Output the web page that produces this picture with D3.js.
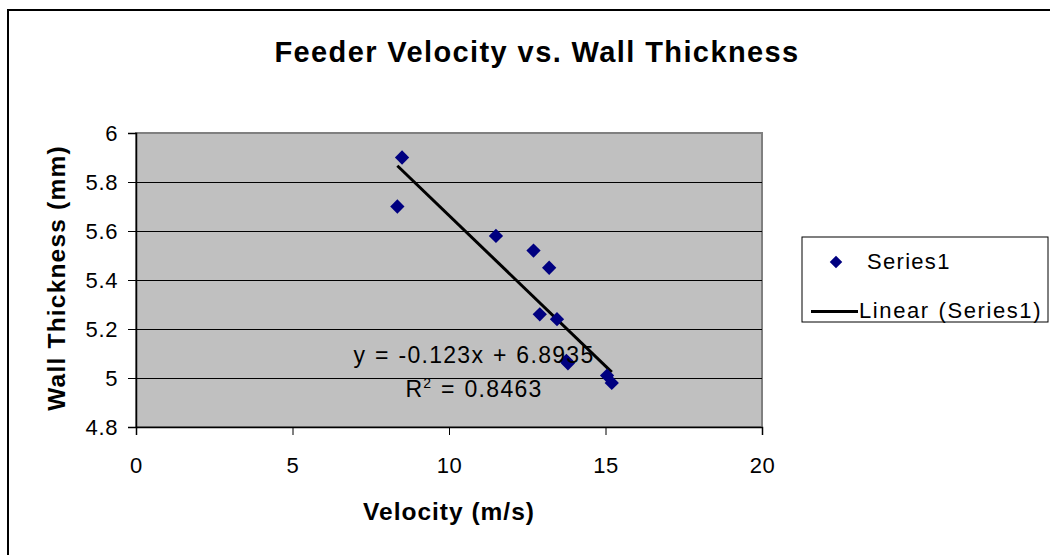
<!DOCTYPE html>
<html>
<head>
<meta charset="utf-8">
<script src="https://cdn.jsdelivr.net/npm/d3@7/dist/d3.min.js"></script>
<style>
  html, body { margin: 0; padding: 0; background: #fff; }
  svg { display: block; font-family: "Liberation Sans", Arial, sans-serif; }
</style>
</head>
<body>
<div id="chart"></div>
<script>
// data
const velocity = [8.5, 8.35, 11.5, 12.7, 13.2, 12.9, 13.45, 13.75, 13.8, 15.05, 15.2];
const thickness = [5.9, 5.7, 5.58, 5.52, 5.45, 5.26, 5.24, 5.07, 5.06, 5.01, 4.98];
const xTicks = [0, 5, 10, 15, 20];
const yTicks = [4.8, 5, 5.2, 5.4, 5.6, 5.8, 6];
const trendSlope = -0.123;
const trendIntercept = 6.8935;
const trendLabel = ['y = -0.123x + 6.8935', '0.8463'];
const legendLabels = ['Series1', 'Linear (Series1)'];

const width = 1050, height = 555;
const margin = { top: 133, right: 288, bottom: 128, left: 136 };
const plotWidth = width - margin.left - margin.right;
const plotHeight = height - margin.top - margin.bottom;

const svg = d3.select('#chart').append('svg')
  .attr('width', width)
  .attr('height', height);

// outer chart border
svg.append('rect')
  .attr('x', 8).attr('y', 10)
  .attr('width', width + 10).attr('height', height + 10)
  .style('fill', 'none')
  .style('stroke', '#000')
  .style('stroke-width', 2);

svg.append('text')
  .attr('x', 537).attr('y', 62)
  .attr('text-anchor', 'middle')
  .style('font-size', '29px')
  .style('font-weight', 'bold')
  .style('letter-spacing', '1.4px')
  .text('Feeder Velocity vs. Wall Thickness');

const g = svg.append('g')
  .attr('transform', `translate(${margin.left},${margin.top})`);

const x = d3.scaleLinear().domain([0, 20]).range([0, plotWidth]);
const y = d3.scaleLinear().domain([4.8, 6]).range([plotHeight, 0]);

// plot area
g.append('rect')
  .attr('width', plotWidth).attr('height', plotHeight)
  .style('fill', '#c0c0c0')
  .style('stroke', '#808080')
  .style('stroke-width', 2);

// gridlines
g.append('g')
  .selectAll('line')
  .data(yTicks.filter(d => d > 4.8 && d < 6))
  .enter().append('line')
  .attr('x1', 0).attr('x2', plotWidth)
  .attr('y1', d => Math.round(y(d)) + 0.5)
  .attr('y2', d => Math.round(y(d)) + 0.5)
  .style('stroke', '#000')
  .style('stroke-width', 1);

// axes
const xAxis = g.append('g')
  .attr('transform', `translate(0,${plotHeight})`)
  .call(d3.axisBottom(x).tickValues(xTicks).tickSize(8).tickPadding(22).tickFormat(d3.format('d')));
const yAxis = g.append('g')
  .call(d3.axisLeft(y).tickValues(yTicks).tickSize(8).tickPadding(10).tickFormat(d => d3.format('')(+d.toFixed(1))));

[xAxis, yAxis].forEach(a => {
  a.select('.domain').style('stroke', '#000').style('stroke-width', 1.5);
  a.selectAll('.tick line').style('stroke', '#000');
  a.selectAll('text')
    .style('font-family', '"Liberation Sans", Arial, sans-serif')
    .style('font-size', '22px')
    .style('letter-spacing', '0.6px')
    .style('fill', '#000');
});

// trend line over the data range
const xExt = d3.extent(velocity);
g.append('line')
  .attr('x1', x(xExt[0])).attr('y1', y(trendSlope * xExt[0] + trendIntercept))
  .attr('x2', x(xExt[1])).attr('y2', y(trendSlope * xExt[1] + trendIntercept))
  .style('stroke', '#000')
  .style('stroke-width', 3);

// points
const diamond = d3.symbol().type(d3.symbolDiamond2).size(130);
g.selectAll('.pt')
  .data(velocity.map((v, i) => [v, thickness[i]]))
  .enter().append('path')
  .attr('class', 'pt')
  .attr('transform', d => `translate(${x(d[0])},${y(d[1])})`)
  .attr('d', diamond)
  .style('fill', '#000080');

// equation label
const eq = g.append('text')
  .attr('x', x(10.8)).attr('y', y(5.063))
  .attr('text-anchor', 'middle')
  .style('font-size', '23px')
  .style('letter-spacing', '1.3px')
  .style('word-spacing', '1px');
eq.append('tspan').text(trendLabel[0]);
const r2 = g.append('text')
  .attr('x', x(10.8)).attr('y', y(4.924))
  .attr('text-anchor', 'middle')
  .style('font-size', '23px')
  .style('letter-spacing', '1.3px')
  .style('word-spacing', '1px');
r2.append('tspan').text('R');
r2.append('tspan').attr('dy', -9).style('font-size', '14px').text('2');
r2.append('tspan').attr('dy', 9).text(' = ' + trendLabel[1]);

// axis titles
svg.append('text')
  .attr('x', 449).attr('y', 520)
  .attr('text-anchor', 'middle')
  .style('font-size', '24.5px')
  .style('font-weight', 'bold')
  .style('letter-spacing', '1px')
  .text('Velocity (m/s)');
svg.append('text')
  .attr('transform', 'translate(65,278) rotate(-90)')
  .attr('text-anchor', 'middle')
  .style('font-size', '24.5px')
  .style('font-weight', 'bold')
  .style('letter-spacing', '1.2px')
  .text('Wall Thickness (mm)');

// legend
const lg = svg.append('g').attr('transform', 'translate(802,237)');
lg.append('rect')
  .attr('width', 246).attr('height', 85)
  .style('fill', '#fff')
  .style('stroke', '#000')
  .style('stroke-width', 1);
lg.append('path')
  .attr('transform', 'translate(34,25)')
  .attr('d', d3.symbol().type(d3.symbolDiamond2).size(100))
  .style('fill', '#000080');
lg.append('text')
  .attr('x', 65).attr('y', 32)
  .style('font-size', '22px')
  .style('letter-spacing', '1.3px')
  .text(legendLabels[0]);
lg.append('line')
  .attr('x1', 9).attr('x2', 56)
  .attr('y1', 74.5).attr('y2', 74.5)
  .style('stroke', '#000')
  .style('stroke-width', 3);
lg.append('text')
  .attr('x', 57).attr('y', 81)
  .style('font-size', '22px')
  .style('letter-spacing', '1.6px')
  .style('word-spacing', '1px')
  .text(legendLabels[1]);
</script>
</body>
</html>
